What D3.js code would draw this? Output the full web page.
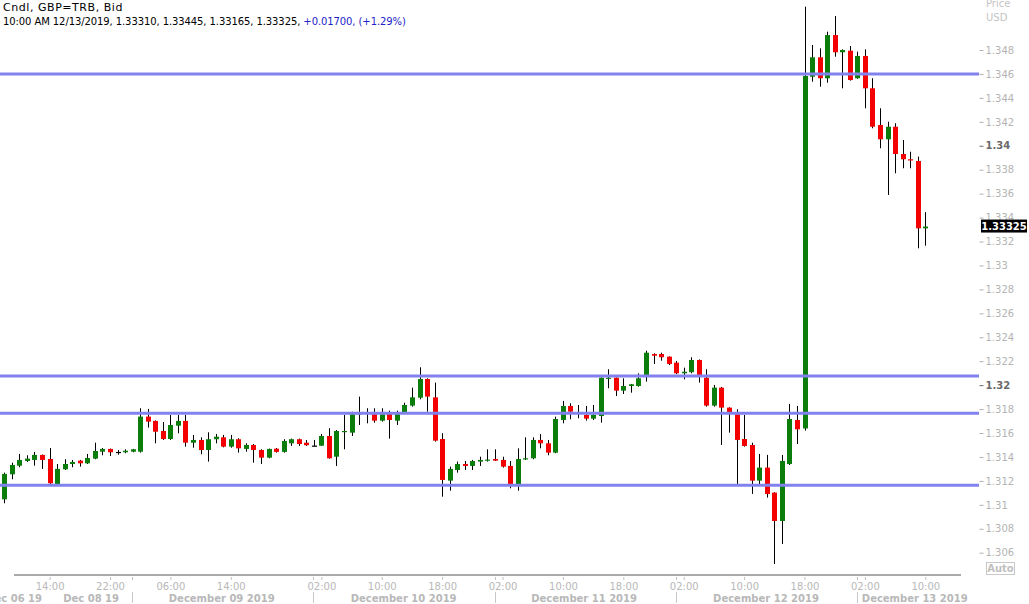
<!DOCTYPE html>
<html>
<head>
<meta charset="utf-8">
<script src="https://cdn.jsdelivr.net/npm/d3@7"></script>
<style>
html,body{margin:0;padding:0;background:#fff;}
svg{display:block;font-family:"DejaVu Sans",Verdana,sans-serif;}
</style>
</head>
<body>
<svg id="chart" width="1029" height="604"></svg>
<script>
// ---- DATA ----
const openP = [1.31046,1.31255,1.31327,1.31366,1.31375,1.31417,1.31383,1.31174,1.31297,1.31341,
1.31369,1.31347,1.31386,1.31444,1.31467,1.31442,1.31439,1.31444,1.31444,1.31737,
1.31701,1.31617,1.31550,1.31661,1.31701,1.31519,1.31542,1.31458,1.31548,1.31564,
1.31486,1.31548,1.31467,1.31500,1.31458,1.31394,1.31469,1.31442,1.31514,1.31548,
1.31519,1.31495,1.31494,1.31575,1.31402,1.31610,1.31603,1.31760,1.31770,1.31757,
1.31703,1.31765,1.31703,1.31773,1.31829,1.31895,1.32051,1.31898,1.31550,1.31202,
1.31291,1.31341,1.31325,1.31361,1.31375,1.31383,1.31375,1.31325,1.31174,1.31381,
1.31389,1.31542,1.31514,1.31436,1.31709,1.31826,1.31775,1.31751,1.31720,1.31742,
1.32060,1.32062,1.31954,1.31993,1.31993,1.32085,1.32260,1.32260,1.32238,1.32188,
1.32099,1.32108,1.32210,1.32062,1.31829,1.31979,1.31812,1.31757,1.31550,1.31500,
1.31202,1.31311,1.31102,1.30865,1.31341,1.31709,1.31638,1.34577,1.34739,1.34564,
1.34925,1.34781,1.34794,1.34564,1.34750,1.34480,1.34173,1.34054,1.34159,1.33931,
1.33887,1.33873,1.33310];
const highP = [1.31269,1.31352,1.31425,1.31414,1.31442,1.31420,1.31475,1.31341,1.31381,1.31375,
1.31375,1.31425,1.31519,1.31475,1.31470,1.31458,1.31464,1.31467,1.31807,1.31801,
1.31705,1.31692,1.31751,1.31751,1.31751,1.31584,1.31564,1.31606,1.31592,1.31584,
1.31584,1.31556,1.31514,1.31508,1.31464,1.31470,1.31475,1.31548,1.31553,1.31553,
1.31542,1.31542,1.31592,1.31640,1.31625,1.31751,1.31778,1.31904,1.31807,1.31807,
1.31807,1.31787,1.31787,1.31853,1.31979,1.32149,1.32057,1.32021,1.31598,1.31319,
1.31361,1.31366,1.31375,1.31402,1.31464,1.31464,1.31402,1.31366,1.31472,1.31564,
1.31564,1.31592,1.31542,1.31737,1.31868,1.31848,1.31834,1.31826,1.31834,1.32065,
1.32133,1.32065,1.32057,1.32010,1.32099,1.32288,1.32266,1.32271,1.32240,1.32202,
1.32146,1.32233,1.32215,1.32133,1.32001,1.31985,1.31815,1.31799,1.31751,1.31519,
1.31425,1.31417,1.31105,1.31417,1.31843,1.31826,1.35162,1.34842,1.34814,1.34953,
1.35084,1.34805,1.34833,1.34786,1.34806,1.34564,1.34313,1.34201,1.34188,1.34048,
1.33950,1.33909,1.33445];
const lowP = [1.31013,1.31214,1.31314,1.31358,1.31327,1.31300,1.31174,1.31170,1.31291,1.31314,
1.31319,1.31341,1.31381,1.31414,1.31408,1.31419,1.31431,1.31439,1.31436,1.31645,
1.31514,1.31542,1.31542,1.31598,1.31486,1.31477,1.31422,1.31361,1.31514,1.31480,
1.31477,1.31436,1.31444,1.31352,1.31341,1.31389,1.31436,1.31436,1.31492,1.31492,
1.31492,1.31490,1.31492,1.31386,1.31325,1.31464,1.31575,1.31667,1.31681,1.31686,
1.31695,1.31553,1.31667,1.31765,1.31820,1.31882,1.31778,1.31528,1.31068,1.31118,
1.31269,1.31291,1.31291,1.31325,1.31361,1.31366,1.31311,1.31138,1.31118,1.31375,
1.31381,1.31472,1.31414,1.31431,1.31681,1.31715,1.31723,1.31703,1.31709,1.31686,
1.31974,1.31909,1.31926,1.31937,1.31987,1.32029,1.32177,1.32204,1.32168,1.32091,
1.32049,1.32099,1.32021,1.31820,1.31820,1.31500,1.31603,1.31174,1.31486,1.31091,
1.31174,1.31060,1.30506,1.30673,1.31333,1.31508,1.31620,1.34535,1.34493,1.34527,
1.34744,1.34480,1.34544,1.34560,1.34313,1.34146,1.33979,1.33589,1.33770,1.33812,
1.33812,1.33143,1.33165];
const closeP = [1.31258,1.31333,1.31375,1.31386,1.31417,1.31375,1.31180,1.31300,1.31341,1.31358,
1.31347,1.31391,1.31450,1.31467,1.31439,1.31442,1.31452,1.31464,1.31737,1.31695,
1.31611,1.31550,1.31667,1.31701,1.31519,1.31542,1.31458,1.31548,1.31569,1.31486,
1.31548,1.31472,1.31500,1.31458,1.31394,1.31467,1.31442,1.31533,1.31548,1.31508,
1.31498,1.31495,1.31575,1.31389,1.31617,1.31617,1.31757,1.31765,1.31770,1.31703,
1.31757,1.31709,1.31757,1.31834,1.31898,1.32051,1.31904,1.31536,1.31208,1.31300,
1.31341,1.31325,1.31366,1.31375,1.31378,1.31369,1.31319,1.31174,1.31383,1.31389,
1.31542,1.31514,1.31436,1.31717,1.31826,1.31778,1.31775,1.31720,1.31751,1.32062,
1.32062,1.31954,1.31993,1.32007,1.32057,1.32271,1.32246,1.32233,1.32177,1.32099,
1.32112,1.32210,1.32085,1.31829,1.31979,1.31812,1.31773,1.31542,1.31492,1.31202,
1.31311,1.31091,1.30865,1.31366,1.31717,1.31631,1.34583,1.34739,1.34564,1.34925,
1.34781,1.34800,1.34549,1.34750,1.34480,1.34159,1.34054,1.34159,1.33931,1.33887,
1.33884,1.33310,1.33325];

const levels = [1.34600, 1.32077, 1.31766, 1.31163];

const priceTicks = [1.306,1.308,1.31,1.312,1.314,1.316,1.318,1.32,1.322,1.324,1.326,1.328,
                    1.33,1.332,1.334,1.336,1.338,1.34,1.342,1.344,1.346,1.348];
const boldTicks = [1.32, 1.34];

const timeTickIdx = [6,14,22,30,42,50,58,66,74,82,90,98,106,114,122];
const timeTickLabels = ["14:00","22:00","06:00","14:00","02:00","10:00","18:00","02:00",
                        "10:00","18:00","02:00","10:00","18:00","02:00","10:00"];
const daySepIdx = [16.95, 40.95, 64.95, 88.95, 112.95];
const dayLabels = ["Dec 06 19","Dec 08 19","December 09 2019","December 10 2019",
                   "December 11 2019","December 12 2019","December 13 2019"];
const dayLabelIdx = [1.3, 11.5, 28.8, 52.9, 76.8, 100.9, 120.6];

const titleLine1 = "Cndl, GBP=TRB, Bid";
const titleLine2a = "10:00 AM 12/13/2019, 1.33310, 1.33445, 1.33165, 1.33325, ";
const titleLine2b = "+0.01700, (+1.29%)";
const lastPrice = "1.33325";

// ---- CHART ----
const svg = d3.select("#chart");
const W = 1029, H = 604;
svg.append("rect").attr("width", W).attr("height", H).attr("fill", "#fff");

const n = openP.length;
const x = d3.scaleLinear().domain([0, n - 1]).range([4.3, 925.3]);
const y = d3.scaleLinear().domain([1.306, 1.348]).range([552.7, 50]);

const candles = d3.range(n).map(i => ({i, o: openP[i], h: highP[i], l: lowP[i], c: closeP[i]}));

const gC = svg.append("g");
gC.selectAll("line.wick").data(candles).join("line")
  .attr("class", "wick")
  .attr("x1", d => Math.round(x(d.i)) + 0.5)
  .attr("x2", d => Math.round(x(d.i)) + 0.5)
  .attr("y1", d => y(d.h))
  .attr("y2", d => y(d.l))
  .attr("stroke", "#000").attr("stroke-width", 1);
gC.selectAll("rect.body").data(candles).join("rect")
  .attr("class", "body")
  .attr("x", d => Math.round(x(d.i)) - 2)
  .attr("width", 5)
  .attr("y", d => y(Math.max(d.o, d.c)))
  .attr("height", d => Math.max(1.2, Math.abs(y(d.o) - y(d.c))))
  .attr("fill", d => d.c > d.o ? "#0a7d0a" : (d.c < d.o ? "#f40000" : "#000"));

// support / resistance lines
svg.append("g").selectAll("line").data(levels).join("line")
  .attr("x1", 0).attr("x2", 979)
  .attr("y1", d => y(d)).attr("y2", d => y(d))
  .attr("stroke", "#8282ee").attr("stroke-width", 3);

// y axis (right)
const isBold = d => boldTicks.some(b => Math.abs(b - d) < 1e-9);
const yAxis = d3.axisRight(y).tickValues(priceTicks).tickSize(4).tickPadding(2)
  .tickFormat(d => String(+d.toFixed(3)));
const gY = svg.append("g").attr("transform", "translate(979.5,0)").call(yAxis);
gY.select(".domain").remove();
gY.selectAll(".tick line").attr("stroke", d => isBold(d) ? "#6a6a6a" : "#b0b0b0");
gY.selectAll(".tick text")
  .attr("font-family", "DejaVu Sans, Verdana, sans-serif")
  .attr("font-size", 10)
  .attr("fill", d => isBold(d) ? "#6a6a6a" : "#b4b4b4")
  .attr("font-weight", d => isBold(d) ? "bold" : "normal");

// last price box
const lp = closeP[n - 1];
svg.append("rect").attr("x", 981).attr("y", y(lp) - 7).attr("width", 46).attr("height", 13).attr("fill", "#000");
svg.append("text").attr("x", 1004).attr("y", y(lp)).attr("dy", "0.35em")
  .attr("text-anchor", "middle").attr("font-size", 10).attr("font-weight", "bold")
  .attr("fill", "#fff").text(lastPrice);

// Price / USD header
svg.append("text").attr("x", 986).attr("y", 7).attr("font-size", 10).attr("fill", "#c4c4c4").text("Price");
svg.append("text").attr("x", 986).attr("y", 21).attr("font-size", 10).attr("fill", "#c4c4c4").text("USD");

// Auto box
svg.append("rect").attr("x", 986.5).attr("y", 562.5).attr("width", 28).attr("height", 12)
  .attr("fill", "none").attr("stroke", "#c8c8c8");
svg.append("text").attr("x", 1000.5).attr("y", 572).attr("text-anchor", "middle")
  .attr("font-size", 10).attr("font-weight", "bold").attr("fill", "#c0c0c0").text("Auto");

// x axis
svg.append("line").attr("x1", 14).attr("x2", 961).attr("y1", 575).attr("y2", 575)
  .attr("stroke", "#555").attr("stroke-width", 1);
const xAxis = d3.axisBottom(x).tickValues(timeTickIdx).tickSize(3).tickPadding(3)
  .tickFormat((d, k) => timeTickLabels[k]);
const gX = svg.append("g").attr("transform", "translate(0,577)").call(xAxis);
gX.select(".domain").remove();
gX.selectAll(".tick line").attr("stroke", "#c0c0c0");
gX.selectAll(".tick text").attr("font-family", "DejaVu Sans, Verdana, sans-serif")
  .attr("font-size", 10).attr("fill", "#b8b8b8");

// day separators
const gS = svg.append("g");
daySepIdx.forEach(v => {
  const xx = Math.round(x(v)) + 0.5;
  gS.append("line").attr("x1", xx).attr("x2", xx).attr("y1", 577).attr("y2", 580).attr("stroke", "#c0c0c0");
  gS.append("line").attr("x1", xx).attr("x2", xx).attr("y1", 592).attr("y2", 603).attr("stroke", "#c8c8c8");
});
svg.append("g").selectAll("text").data(dayLabels).join("text")
  .attr("x", (d, k) => x(dayLabelIdx[k]))
  .attr("y", 602)
  .attr("text-anchor", "middle")
  .attr("font-size", 10).attr("font-weight", "bold").attr("fill", "#b8b8b8")
  .text(d => d);

// title
svg.append("text").attr("x", 3).attr("y", 11).attr("font-size", 11)
  .attr("letter-spacing", 0.55).attr("fill", "#000").text(titleLine1);
const t2 = svg.append("text").attr("x", 3).attr("y", 25).attr("font-size", 10).attr("letter-spacing", -0.09);
t2.append("tspan").attr("fill", "#000").text(titleLine2a);
t2.append("tspan").attr("fill", "#2323c8").text(titleLine2b);
</script>
</body>
</html>
